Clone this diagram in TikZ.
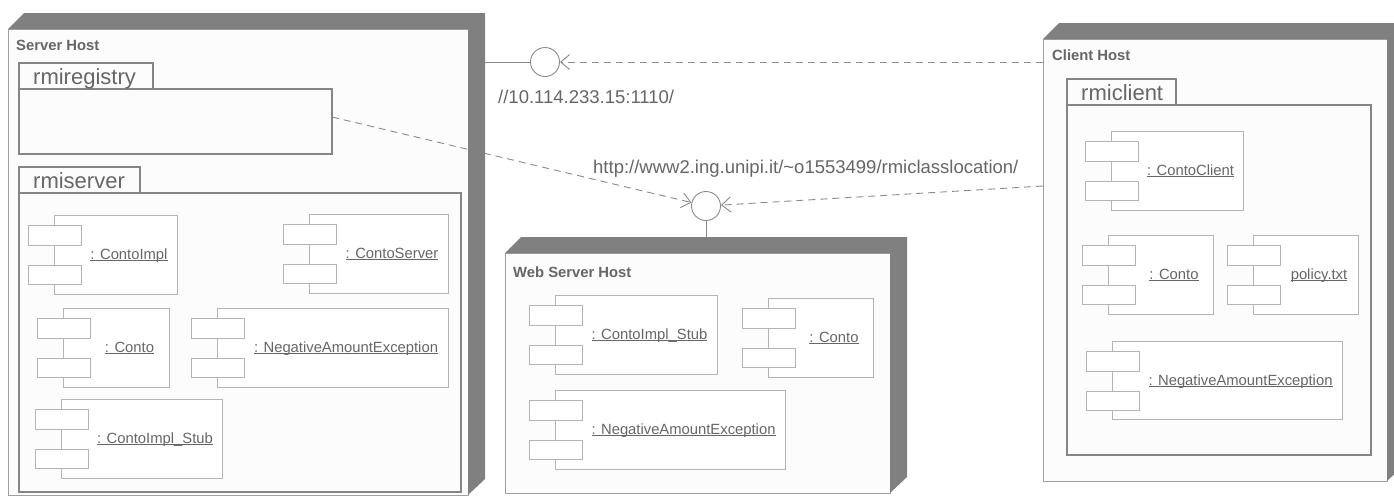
\documentclass[tikz,border=0pt]{standalone}
\usepackage{fontspec}
\setmainfont{Liberation Sans}
\usetikzlibrary{arrows.meta,calc}

\definecolor{shadecol}{HTML}{808080}
\definecolor{facefill}{HTML}{FCFCFC}
\definecolor{hostcol}{HTML}{A0A0A0}
\definecolor{pkgcol}{HTML}{858585}
\definecolor{partcol}{HTML}{B4B4B4}
\definecolor{textcol}{HTML}{666666}
\definecolor{conncol}{HTML}{8A8A8A}

% underlined label with a thin rule just under the baseline
\newcommand\ulabel[1]{\setbox0\hbox{#1}\rlap{\rule[-1.7pt]{\wd0}{0.8pt}}\box0}

\tikzset{
  face/.style={draw=hostcol, fill=facefill, line width=1pt, inner sep=0pt, outer sep=0pt, anchor=north west},
  hosttitle/.style={anchor=base west, inner sep=0pt, text=textcol, font=\fontsize{14.8}{17}\selectfont\bfseries},
  pkgbox/.style={draw=pkgcol, fill=facefill, line width=1.1pt, inner sep=0pt, outer sep=0pt, anchor=north west},
  pkgtext/.style={anchor=base west, inner sep=0pt, text=textcol, font=\fontsize{22}{26}\selectfont},
  partline/.style={draw=partcol, fill=white, line width=0.9pt},
  partbox/.style={partline, inner sep=0pt, outer sep=0pt, anchor=north west},
  partlabel/.style={anchor=base, inner sep=0pt, text=textcol, font=\fontsize{14.8}{17}\selectfont},
  urltext/.style={anchor=base west, inner sep=0pt, text=textcol, font=\fontsize{18.5}{22}\selectfont},
  iface/.style={circle, draw=conncol, fill=white, line width=0.9pt, minimum size=29pt, inner sep=0pt},
  link/.style={draw=conncol, line width=0.9pt},
  dep/.style={draw=conncol, line width=0.9pt, dash pattern=on 7pt off 5pt,
    -{Straight Barb[length=9pt,width=15pt,line width=0.9pt]}},
}

% node face: name, x1, y1, x2, y2
\newcommand\hostface[5]{%
  \node[face, minimum width={#4-#2}, minimum height={#5-#3}] (#1) at (#2,#3) {};}
% 3D depth of a node: x1, y1, x2, y2
\newcommand\hostdepth[4]{%
  \fill[shadecol] (#1,#2) -- (#1+16,#2-16) -- (#3+17,#2-16) -- (#3+17,#4-16)
    -- (#3,#4) -- (#3,#2) -- cycle;}
% package: name, x1, y1, tab x2, tab y2, body x2, body y2, label
\newcommand\package[8]{%
  \node[pkgbox, minimum width={#4-#2}, minimum height={#5-#3}] (#1tab) at (#2,#3) {};
  \node[pkgbox, minimum width={#6-#2}, minimum height={#7-#5}] (#1) at (#2,#5) {};
  \node[pkgtext] at (#2+14,#5-4.5) {#8};}
% component instance: name, x1, y1, x2, y2, label
\newcommand\component[6]{%
  \node[partbox, minimum width={#4-#2}, minimum height={#5-#3}] (#1) at (#2,#3) {};
  \draw[partline] (#2-26,#3+10.5) rectangle (#2+27,#3+30);
  \draw[partline] (#2-26,#3+50) rectangle (#2+27,#3+69.5);
  \node[partlabel] at ({(#2+27+#4)/2},#3+44.5) {\ulabel{#6}};}

\begin{document}
\begin{tikzpicture}[x=1pt,y=-1pt]
\useasboundingbox (0,0) rectangle (1394,496);
\clip (0,0) rectangle (1394,496);
\fill[white] (0,0) rectangle (1394,496);

% ---- Server Host
\hostface{server}{8}{29}{468}{495}
\node[hosttitle] at (16,50.5) {Server Host};
\package{registry}{19}{63}{153}{89}{332}{154}{rmiregistry}
\package{rmiserver}{19}{167}{140}{193}{461}{492}{rmiserver}
\component{sImpl}{54}{215}{177}{294}{: ContoImpl}
\component{sServer}{309}{214}{448}{293}{: ContoServer}
\component{sConto}{63}{308}{169}{387}{: Conto}
\component{sNeg}{217}{308}{448}{387}{: NegativeAmountException}
\component{sStub}{61}{399}{222}{478}{: ContoImpl\_Stub}

% ---- Web Server Host
\hostface{web}{505}{253}{890}{493}
\node[hosttitle] at (513,277) {Web Server Host};
\component{wStub}{555}{295}{717}{374}{: ContoImpl\_Stub}
\component{wConto}{768}{298}{873}{377}{: Conto}
\component{wNeg}{555}{390}{785}{469}{: NegativeAmountException}

% ---- Client Host
\hostface{client}{1043}{39}{1387}{481}
\node[hosttitle] at (1052,60) {Client Host};
\package{rmiclient}{1067}{79}{1176}{105}{1371}{455}{rmiclient}
\component{cClient}{1111}{131}{1243}{210}{: ContoClient}
\component{cConto}{1108}{235}{1213}{314}{: Conto}
\component{cPolicy}{1253}{235}{1358}{314}{policy.txt}
\component{cNeg}{1112}{341}{1342}{419}{: NegativeAmountException}

% ---- provided interfaces
\node[iface] (i1) at (545,62) {};
\node[iface] (i2) at (706,206) {};
\node[urltext] (l1) at (498,103) {//10.114.233.15:1110/};
\node[urltext] (l2) at (593,173.5) {http://www2.ing.unipi.it/\textasciitilde o1553499/rmiclasslocation/};

% ---- connectors
\draw[link] ($(server.east |- i1)+(17,0)$) -- (i1);
\draw[link] (i2) -- ($(web.north -| i2)+(0,-16)$);
\draw[dep] (client.west |- i1) -- (i1);
\draw[dep] ([yshift=4.5pt]registry.east) -- (i2);
\draw[dep] ([yshift=-147pt]client.north west) -- (i2);

% ---- node depth drawn over the connectors
\hostdepth{8}{29}{468}{495}
\hostdepth{505}{253}{890}{493}
\hostdepth{1043}{39}{1387}{481}
\end{tikzpicture}
\end{document}
